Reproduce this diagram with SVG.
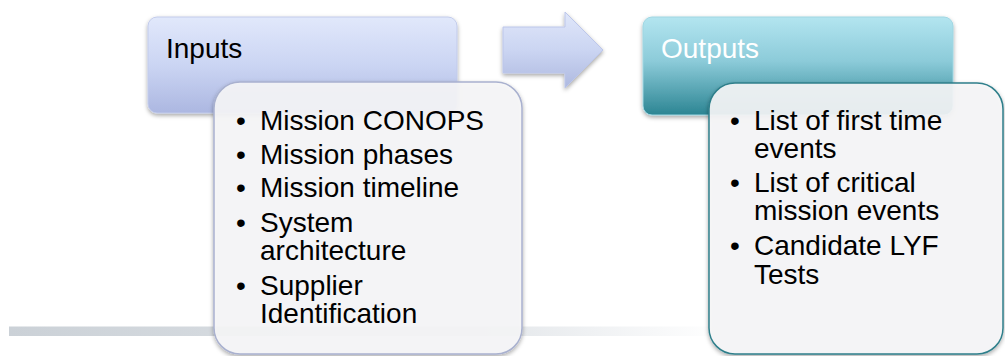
<svg xmlns="http://www.w3.org/2000/svg" width="1005" height="356" viewBox="0 0 1005 356">
  <defs>
    <linearGradient id="gInputs" x1="0" y1="0" x2="0" y2="1">
      <stop offset="0" stop-color="#e1e8fb"/>
      <stop offset="0.5" stop-color="#cbd5f3"/>
      <stop offset="1" stop-color="#acb7e1"/>
    </linearGradient>
    <linearGradient id="gOutputs" x1="0" y1="0" x2="0" y2="1">
      <stop offset="0" stop-color="#b3e5f0"/>
      <stop offset="0.45" stop-color="#8ccbd9"/>
      <stop offset="1" stop-color="#2c8593"/>
    </linearGradient>
    <linearGradient id="gArrow" x1="0" y1="0" x2="0" y2="1">
      <stop offset="0" stop-color="#e0e7fa"/>
      <stop offset="0.5" stop-color="#cbd5f2"/>
      <stop offset="1" stop-color="#aeb9e0"/>
    </linearGradient>
    <linearGradient id="gBar" x1="9" y1="0" x2="1000" y2="0" gradientUnits="userSpaceOnUse">
      <stop offset="0" stop-color="#cbd1d7"/>
      <stop offset="0.45" stop-color="#dfe3e7"/>
      <stop offset="0.72" stop-color="#ffffff"/>
    </linearGradient>
    <filter id="shadow" x="-10%" y="-10%" width="120%" height="130%">
      <feDropShadow dx="0" dy="2" stdDeviation="2" flood-color="#000" flood-opacity="0.35"/>
    </filter>
  </defs>
  <style>
    .hdr { font-family: "Liberation Sans", Arial, sans-serif; font-size: 28px; }
    .item { font-family: "Liberation Sans", Arial, sans-serif; font-size: 28px; fill: #000; }
    .list { fill: #f7f7f8; fill-opacity: 0.9; stroke-width: 1.5; }
  </style>

  <rect x="9" y="326.5" width="991" height="9.5" fill="url(#gBar)"/>

  <g id="node-inputs">
    <rect x="148" y="17" width="309" height="96" rx="9" fill="url(#gInputs)" stroke="#c2cbeb" stroke-width="1" filter="url(#shadow)"/>
    <text class="hdr" x="166" y="58" fill="#000">Inputs</text>
  </g>

  <g id="node-outputs">
    <rect x="643" y="17" width="310" height="98" rx="9" fill="url(#gOutputs)" stroke="#9fd6e2" stroke-width="1" filter="url(#shadow)"/>
    <text class="hdr" x="661" y="58" fill="#ffffff">Outputs</text>
  </g>

  <g id="connectors">
    <path d="M503,27 L565,27 L565,12 L603,50 L565,88 L565,73 L503,73 Z" fill="url(#gArrow)" stroke="#bcc6ea" stroke-width="1" filter="url(#shadow)"/>
  </g>

  <g id="node-inputs-list">
    <rect class="list" x="214" y="82" width="308" height="272" rx="26" stroke="#a9b1cf" filter="url(#shadow)"/>
    <text class="item" x="236" y="130">•<tspan x="260">Mission CONOPS</tspan></text>
    <text class="item" x="236" y="163.5">•<tspan x="260">Mission phases</tspan></text>
    <text class="item" x="236" y="197">•<tspan x="260">Mission timeline</tspan></text>
    <text class="item" x="236" y="231.5">•<tspan x="260">System</tspan><tspan x="260" y="260">architecture</tspan></text>
    <text class="item" x="236" y="294.5">•<tspan x="260">Supplier</tspan><tspan x="260" y="323">Identification</tspan></text>
  </g>

  <g id="node-outputs-list">
    <rect class="list" x="709" y="83" width="294" height="271" rx="26" stroke="#2f7f8b" filter="url(#shadow)"/>
    <text class="item" x="730" y="130">•<tspan x="754">List of first time</tspan><tspan x="754" y="158">events</tspan></text>
    <text class="item" x="730" y="192">•<tspan x="754">List of critical</tspan><tspan x="754" y="220">mission events</tspan></text>
    <text class="item" x="730" y="255">•<tspan x="754">Candidate LYF</tspan><tspan x="754" y="284">Tests</tspan></text>
  </g>
</svg>
